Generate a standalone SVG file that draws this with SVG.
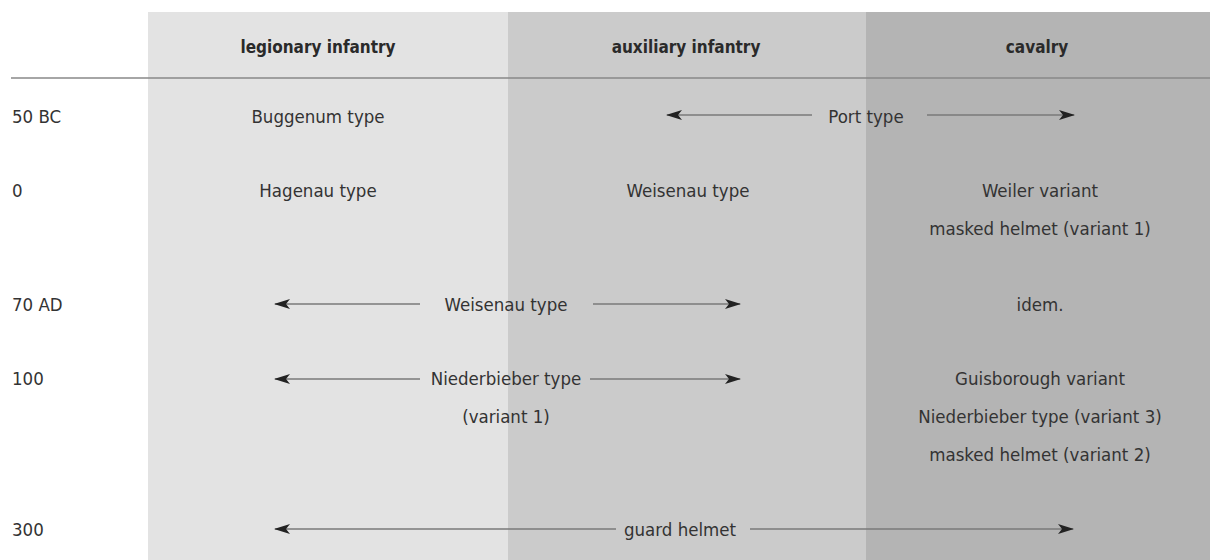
<svg xmlns="http://www.w3.org/2000/svg" width="1210" height="560" viewBox="0 0 1210 560">
<style>
text{font-family:"DejaVu Sans Condensed","Liberation Sans",sans-serif;font-stretch:condensed;font-size:18.5px;fill:#333;}
.h{font-weight:bold;font-size:17px;fill:#2a2a2a;}
.c{text-anchor:middle;}
.ln{stroke:#7a7a7a;stroke-width:1.7;fill:none;}
</style>
<defs>
<marker id="ah" viewBox="0 0 16 10" markerWidth="16" markerHeight="10" refX="15" refY="5" markerUnits="userSpaceOnUse" orient="auto-start-reverse">
<path d="M0,0 L16,5 L0,10 L4,5 z" fill="#222"/>
</marker>
</defs>
<rect width="1210" height="560" fill="#fff"/>
<g id="bands">
<rect x="148" y="12" width="360" height="548" fill="#e3e3e3"/>
<rect x="508" y="12" width="358" height="548" fill="#cbcbcb"/>
<rect x="866" y="12" width="344" height="548" fill="#b4b4b4"/>
</g>
<line x1="11" y1="78" x2="1210" y2="78" stroke="#888" stroke-width="1.6"/>
<g id="col-legionary"><text class="h c" x="318" y="53">legionary infantry</text></g>
<g id="col-auxiliary"><text class="h c" x="686" y="53">auxiliary infantry</text></g>
<g id="col-cavalry"><text class="h c" x="1037" y="53">cavalry</text></g>
<g id="row-50bc"><text x="12" y="123">50 BC</text></g>
<g id="row-0"><text x="12" y="197">0</text></g>
<g id="row-70ad"><text x="12" y="311">70 AD</text></g>
<g id="row-100"><text x="12" y="385">100</text></g>
<g id="row-300"><text x="12" y="536">300</text></g>
<g id="buggenum"><text class="c" x="318" y="123">Buggenum type</text></g>
<g id="port"><text class="c" x="866" y="123">Port type</text></g>
<g id="hagenau"><text class="c" x="318" y="197">Hagenau type</text></g>
<g id="weisenau-aux"><text class="c" x="688" y="197">Weisenau type</text></g>
<g id="weiler"><text class="c" x="1040" y="197">Weiler variant</text><text class="c" x="1040" y="235">masked helmet (variant 1)</text></g>
<g id="weisenau-70"><text class="c" x="506" y="311">Weisenau type</text></g>
<g id="idem"><text class="c" x="1040" y="311">idem.</text></g>
<g id="niederbieber-1"><text class="c" x="506" y="385">Niederbieber type</text><text class="c" x="506" y="423">(variant 1)</text></g>
<g id="cavalry-100"><text class="c" x="1040" y="385">Guisborough variant</text><text class="c" x="1040" y="423">Niederbieber type (variant 3)</text><text class="c" x="1040" y="461">masked helmet (variant 2)</text></g>
<g id="guard"><text class="c" x="680" y="536">guard helmet</text></g>
<g id="connectors">
<line class="ln" x1="812" y1="115" x2="667" y2="115" marker-end="url(#ah)"/>
<line class="ln" x1="927" y1="115" x2="1074" y2="115" marker-end="url(#ah)"/>
<line class="ln" x1="420" y1="304" x2="275" y2="304" marker-end="url(#ah)"/>
<line class="ln" x1="593" y1="304" x2="740" y2="304" marker-end="url(#ah)"/>
<line class="ln" x1="420" y1="379" x2="275" y2="379" marker-end="url(#ah)"/>
<line class="ln" x1="590" y1="379" x2="740" y2="379" marker-end="url(#ah)"/>
<line class="ln" x1="616" y1="529" x2="275" y2="529" marker-end="url(#ah)"/>
<line class="ln" x1="750" y1="529" x2="1073" y2="529" marker-end="url(#ah)"/>
</g>
</svg>
